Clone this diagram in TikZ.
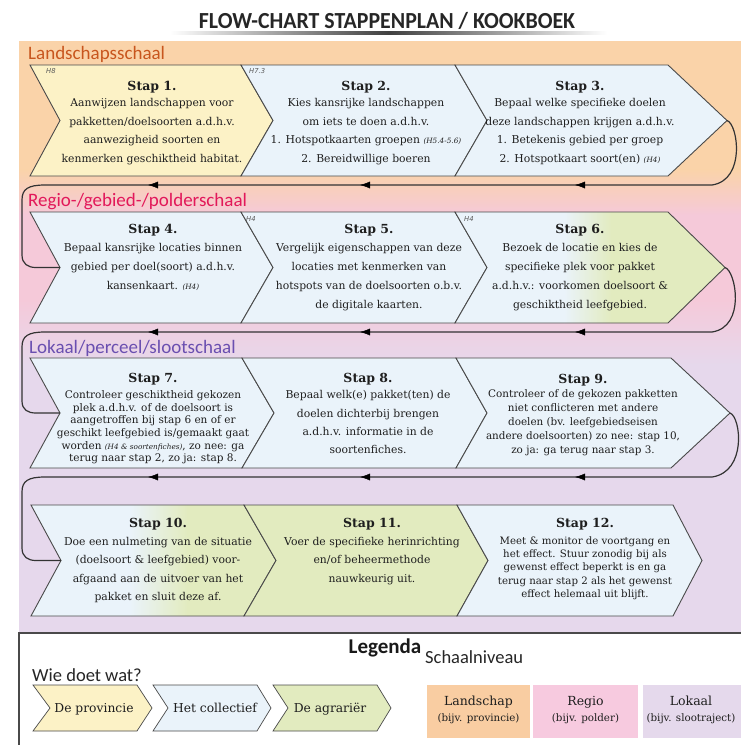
\documentclass[tikz,border=0pt]{standalone}
\usepackage{fontspec}
\usepackage{graphicx}
\setmainfont{DejaVu Serif}
\newfontfamily\labfont{Carlito}
\newfontfamily\reffont{DejaVu Sans}
\usetikzlibrary{arrows.meta,decorations.markings}
\definecolor{bgorange}{HTML}{FAD3A9}
\definecolor{bgpink}{HTML}{F5C9D9}
\definecolor{bglav}{HTML}{E6D8EC}
\definecolor{cyel}{HTML}{FCF2C6}
\definecolor{cblue}{HTML}{EAF3FA}
\definecolor{cgreen}{HTML}{E2EBBF}
\definecolor{edge}{HTML}{4A4A4A}
\definecolor{txt}{HTML}{1E1E1E}
\definecolor{lorange}{HTML}{C8561E}
\definecolor{lpink}{HTML}{E2185A}
\definecolor{lpurple}{HTML}{6A4FB0}
\definecolor{legor}{HTML}{F9CDA2}
\definecolor{legpk}{HTML}{F7CADF}
\definecolor{leglv}{HTML}{E5D9EC}
\newcommand\stephead{\fontsize{12.5}{15}\selectfont\bfseries}
\newcommand\refit[1]{{\itshape\fontsize{7.3}{9}\selectfont #1}}
\tikzset{
  stepbox/.style={draw=edge, line width=0.9pt, line join=miter},
  steptext/.style={align=center, inner sep=0pt, text=txt, anchor=north},
  hlab/.style={font=\reffont\itshape\fontsize{6.8}{8}\selectfont, text=black!65, inner sep=0pt, anchor=west},
  scalelab/.style={font=\labfont\fontsize{19}{22}\selectfont, inner sep=0pt, anchor=base west},
  loop/.style={draw=black!80, line width=1.2pt},
  larrows/.style={postaction={decorate}, decoration={markings,
    mark=at position 137pt with {\arrow{Latex[length=10pt,width=7pt]}},
    mark=at position 352pt with {\arrow{Latex[length=10pt,width=7pt]}},
    mark=at position 564pt with {\arrow{Latex[length=10pt,width=7pt]}}}},
  legtext/.style={font=\fontsize{12.3}{14}\selectfont, text=txt, inner sep=0pt, anchor=base},
}
\begin{document}
\begin{tikzpicture}[x=1pt,y=-1pt]
\useasboundingbox (0,0) rectangle (741,745);
% title
\node[inner sep=0pt, anchor=base, text=black!85] (title) at (387,28)
  {\scalebox{0.95}[1]{\labfont\bfseries\fontsize{23}{26}\selectfont FLOW-CHART STAPPENPLAN / KOOKBOEK}};
\shade[left color=white, right color=white, middle color=black!75] (170,31) rectangle (607,34.5);
% background
\fill[bgorange] (19,41) rectangle (741,170);
\shade[top color=bgorange, bottom color=bgpink] (19,169.5) rectangle (741,215);
\fill[bgpink] (19,214.5) rectangle (741,300);
\shade[top color=bgpink, bottom color=bglav] (19,299.5) rectangle (741,365);
\fill[bglav] (19,364.5) rectangle (741,633);
% scale labels
\node[scalelab, text=lorange] (lab1) at (28,59) {Landschapsschaal};
\node[scalelab, text=lpink] (lab2) at (28,206) {Regio-/gebied-/polderschaal};
\node[scalelab, text=lpurple] (lab3) at (29,353) {Lokaal/perceel/slootschaal};
% ---------- row 1
\path[stepbox, fill=cyel] (30,65) -- (241,65) -- (273,120.5) -- (241,176) -- (30,176) -- (60,120.5) -- cycle;
\path[stepbox, fill=cblue] (241,65) -- (455,65) -- (487,120.5) -- (455,176) -- (241,176) -- (273,120.5) -- cycle;
\path[stepbox, fill=cblue] (455,65) -- (668,65) -- (727,120.5) -- (668,176) -- (455,176) -- (487,120.5) -- cycle;
% ---------- row 2
\path[stepbox, fill=cblue] (30,212) -- (241,212) -- (273,267.5) -- (241,323) -- (30,323) -- (60,267.5) -- cycle;
\path[stepbox, fill=cblue] (241,212) -- (455,212) -- (487,267.5) -- (455,323) -- (241,323) -- (273,267.5) -- cycle;
\begin{scope}
\clip (455,212) -- (668,212) -- (725,267.5) -- (668,323) -- (455,323) -- (487,267.5) -- cycle;
\fill[cblue] (450,205) rectangle (565,330);
\shade[left color=cblue, right color=cgreen] (564,205) rectangle (612,330);
\fill[cgreen] (611,205) rectangle (741,330);
\end{scope}
\path[stepbox] (455,212) -- (668,212) -- (725,267.5) -- (668,323) -- (455,323) -- (487,267.5) -- cycle;
% ---------- row 3
\path[stepbox, fill=cblue] (30,358) -- (242,358) -- (274,413) -- (242,468) -- (30,468) -- (60,413) -- cycle;
\path[stepbox, fill=cblue] (242,358) -- (456,358) -- (487,413) -- (456,468) -- (242,468) -- (274,413) -- cycle;
\path[stepbox, fill=cblue] (456,358) -- (671,358) -- (730,413) -- (671,468) -- (456,468) -- (487,413) -- cycle;
% ---------- row 4
\begin{scope}
\clip (31,505) -- (244,505) -- (276,560.5) -- (244,616) -- (31,616) -- (61,560.5) -- cycle;
\fill[cblue] (25,500) rectangle (131,620);
\shade[left color=cblue, right color=cgreen] (130,500) rectangle (188,620);
\fill[cgreen] (187,500) rectangle (280,620);
\end{scope}
\path[stepbox] (31,505) -- (244,505) -- (276,560.5) -- (244,616) -- (31,616) -- (61,560.5) -- cycle;
\path[stepbox, fill=cgreen] (244,505) -- (457,505) -- (488,560.5) -- (457,616) -- (244,616) -- (276,560.5) -- cycle;
\path[stepbox, fill=cblue] (457,505) -- (673,505) -- (702,560.5) -- (673,616) -- (457,616) -- (488,560.5) -- cycle;
% ---------- connectors
\coordinate (tip3) at (727,120.5);
\coordinate (notch4) at (60,267.5);
\coordinate (tip6) at (725,267.5);
\coordinate (notch7) at (60,413);
\coordinate (tip9) at (730,413);
\coordinate (notch10) at (61,560.5);
\coordinate (r1) at (712,185); \coordinate (l1) at (45,185);
\coordinate (r2) at (712,332); \coordinate (l2) at (45,332);
\coordinate (r3) at (712,477); \coordinate (l3) at (45,477);
\draw[loop] (tip3) .. controls (738,124) and (746,180) .. (r1) -- (l1)
  .. controls (28,185) and (22,189) .. (22,200) -- (22,255) .. controls (22,264) and (28,267.5) .. (36,267.5) -- (notch4);
\draw[loop] (tip6) .. controls (736,271) and (746,327) .. (r2) -- (l2)
  .. controls (28,332) and (22,336) .. (22,347) -- (22,401) .. controls (22,410) and (28,413) .. (36,413) -- (notch7);
\draw[loop] (tip9) .. controls (741,417) and (747,472) .. (r3) -- (l3)
  .. controls (28,477) and (22,481) .. (22,492) -- (22,548) .. controls (22,557) and (28,560.5) .. (36,560.5) -- (notch10);
\path[larrows] (r1) -- (l1);
\path[larrows] (r2) -- (l2);
\path[larrows] (r3) -- (l3);
% ---------- H labels
\node[hlab] (h8) at (46,71.5) {H8};
\node[hlab] (h73) at (249,71.5) {H7.3};
\node[hlab] (h4a) at (246,219) {H4};
\node[hlab] (h4b) at (464,219) {H4};
% ---------- step texts
\node[steptext, font=\fontsize{10.8}{18.6}\selectfont] (s1) at (152,81.2)
  {{\stephead Stap 1.}\\[-2.6pt] Aanwijzen landschappen voor\\ pakketten/doelsoorten a.d.h.v.\\ aanwezigheid soorten en\\ kenmerken geschiktheid habitat.};
\node[steptext, font=\fontsize{10.8}{18.6}\selectfont] (s2) at (366,81.2)
  {{\stephead Stap 2.}\\[-2.6pt] Kies kansrijke landschappen\\ om iets te doen a.d.h.v.\\ 1. Hotspotkaarten groepen \refit{(H5.4-5.6)}\\ 2. Bereidwillige boeren};
\node[steptext, font=\fontsize{10.8}{18.6}\selectfont] (s3) at (580,81.2)
  {{\stephead Stap 3.}\\[-2.6pt] Bepaal welke specifieke doelen\\ deze landschappen krijgen a.d.h.v.\\ 1. Betekenis gebied per groep\\ 2. Hotspotkaart soort(en) \refit{(H4)}};
\node[steptext, font=\fontsize{10.8}{19}\selectfont] (s4) at (153,224.2)
  {{\stephead Stap 4.}\\[-1pt] Bepaal kansrijke locaties binnen\\ gebied per doel(soort) a.d.h.v.\\ kansenkaart. \refit{(H4)}};
\node[steptext, font=\fontsize{10.8}{19}\selectfont] (s5) at (369,224.2)
  {{\stephead Stap 5.}\\[-1pt] Vergelijk eigenschappen van deze\\ locaties met kenmerken van\\ hotspots van de doelsoorten o.b.v.\\ de digitale kaarten.};
\node[steptext, font=\fontsize{10.8}{19}\selectfont] (s6) at (580,224.2)
  {{\stephead Stap 6.}\\[-1pt] Bezoek de locatie en kies de\\ specifieke plek voor pakket\\ a.d.h.v.: voorkomen doelsoort \&\\ geschiktheid leefgebied.};
\node[steptext, font=\fontsize{10.5}{12.6}\selectfont] (s7) at (153,373.2)
  {{\stephead Stap 7.}\\[3.4pt] Controleer geschiktheid gekozen\\ plek a.d.h.v. of de doelsoort is\\ aangetroffen bij stap 6 en of er\\ geschikt leefgebied is/gemaakt gaat\\ worden \refit{(H4 \& soortenfiches)}, zo nee: ga\\ terug naar stap 2, zo ja: stap 8.};
\node[steptext, font=\fontsize{10.8}{18.4}\selectfont] (s8) at (368,373.2)
  {{\stephead Stap 8.}\\[-2.4pt] Bepaal welk(e) pakket(ten) de\\ doelen dichterbij brengen\\ a.d.h.v. informatie in de\\ soortenfiches.};
\node[steptext, font=\fontsize{10.4}{14}\selectfont] (s9) at (583,373.7)
  {{\stephead Stap 9.}\\[0pt] Controleer of de gekozen pakketten\\ niet conflicteren met andere\\ doelen (bv. leefgebiedseisen\\ andere doelsoorten) zo nee: stap 10,\\ zo ja: ga terug naar stap 3.};
\node[steptext, font=\fontsize{10.8}{18.5}\selectfont] (s10) at (158,517.7)
  {{\stephead Stap 10.}\\[-0.5pt] Doe een nulmeting van de situatie\\ (doelsoort \& leefgebied) voor-\\ afgaand aan de uitvoer van het\\ pakket en sluit deze af.};
\node[steptext, font=\fontsize{10.8}{18.5}\selectfont] (s11) at (372,517.7)
  {{\stephead Stap 11.}\\[-0.5pt] Voer de specifieke herinrichting\\ en/of beheermethode\\ nauwkeurig uit.};
\node[steptext, font=\fontsize{10.2}{13.3}\selectfont] (s12) at (585,517.7)
  {{\stephead Stap 12.}\\[3.7pt] Meet \& monitor de voortgang en\\ het effect. Stuur zonodig bij als\\ gewenst effect beperkt is en ga\\ terug naar stap 2 als het gewenst\\ effect helemaal uit blijft.};
% ---------- legend
\fill[white] (19,633) rectangle (741,745);
\draw[draw=edge, line width=1.2pt] (19,745) -- (19,633) -- (741,633);
\node[inner sep=0pt, anchor=base, font=\labfont\bfseries\fontsize{21}{24}\selectfont, text=black!90] (legtitle) at (385,653) {Legenda};
\node[inner sep=0pt, anchor=base west, font=\labfont\fontsize{18.5}{21}\selectfont, text=black!85] (who) at (32,681) {Wie doet wat?};
\node[inner sep=0pt, anchor=base west, font=\labfont\fontsize{18.5}{21}\selectfont, text=black!85] (scale) at (425,663) {Schaalniveau};
\path[stepbox, line width=0.7pt, fill=cyel] (33,685) -- (137,685) -- (152,708) -- (137,731) -- (33,731) -- (50,708) -- cycle;
\path[stepbox, line width=0.7pt, fill=cblue] (153,685) -- (257,685) -- (271,708) -- (257,731) -- (153,731) -- (168,708) -- cycle;
\path[stepbox, line width=0.7pt, fill=cgreen] (273,685) -- (377,685) -- (391,708) -- (377,731) -- (273,731) -- (288,708) -- cycle;
\node[legtext] (lp) at (94,712) {De provincie};
\node[legtext] (lc) at (215,712) {Het collectief};
\node[legtext] (la) at (330,712) {De agrariër};
\fill[legor] (427,685) rectangle (530,738);
\fill[legpk] (533,685) rectangle (638,738);
\fill[leglv] (643,685) rectangle (741,738);
\node[legtext, font=\fontsize{12.5}{14}\selectfont] (ln) at (478.5,705) {Landschap};
\node[legtext, font=\fontsize{10.3}{12}\selectfont] (lnb) at (478.5,721) {(bijv. provincie)};
\node[legtext, font=\fontsize{12.5}{14}\selectfont] (rg) at (585.5,705) {Regio};
\node[legtext, font=\fontsize{10.3}{12}\selectfont] (rgb) at (585.5,721) {(bijv. polder)};
\node[legtext, font=\fontsize{12.5}{14}\selectfont] (lk) at (691,705) {Lokaal};
\node[legtext, font=\fontsize{10.3}{12}\selectfont] (lkb) at (691,721) {(bijv. slootraject)};
\end{tikzpicture}
\end{document}
